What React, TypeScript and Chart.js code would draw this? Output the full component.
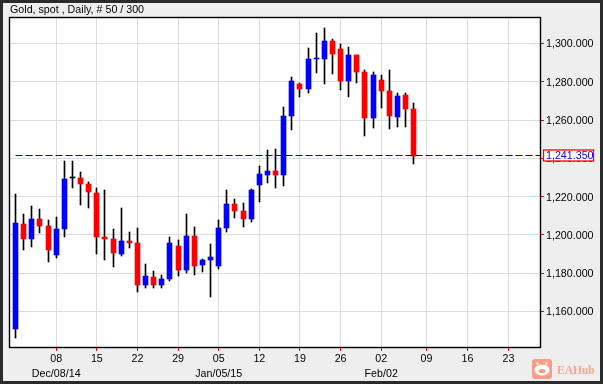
import React, { useEffect, useRef } from "react";
import { Chart, registerables } from "chart.js";

Chart.register(...registerables);

const titleText = "Gold, spot , Daily, # 50 / 300";
const opens = [1150.8,1205.7,1197.8,1208.3,1204.6,1189.5,1203,1229.5,1229.7,1226.6,1221.9,1198.9,1197.8,1190,1196.8,1195.7,1173.8,1178,1173.8,1176.9,1194.2,1181.6,1199.4,1184.2,1186.8,1183.7,1203.6,1216.1,1212.5,1208.3,1226,1231.3,1233.4,1231.1,1262,1278.8,1276.2,1292.1,1291.9,1301.3,1297.1,1280.3,1294,1285.1,1261,1280.9,1275.1,1261.5,1273,1265.7];
const closes = [1206.2,1197.8,1208.3,1204.6,1192.1,1203,1229.2,1229.5,1226.6,1222.4,1198.9,1197.8,1190.5,1196.8,1195.7,1173.8,1178.5,1173.8,1176.9,1195.7,1181.6,1199.4,1183.7,1186.8,1188.4,1203.6,1216.1,1212.5,1208.3,1223.4,1231.8,1233.4,1231.3,1262,1280.3,1276.2,1291.9,1292.3,1301.3,1294.5,1280.3,1294,1285.1,1261,1283.5,1275.1,1262,1272.5,1265.7,1241.35];
const highs = [1221.4,1210.9,1215.1,1213.5,1207.8,1209.3,1238.6,1238.6,1232.9,1227.6,1224.5,1223.4,1203,1214,1201.5,1203.6,1184.8,1181.1,1179,1198.9,1197.3,1210.9,1204.1,1187.4,1195.2,1207.8,1223.4,1218.7,1216.6,1224,1236,1244.4,1244.9,1266.7,1282.4,1279.3,1297.6,1305.5,1308.1,1302.4,1299.7,1298.2,1294,1286.1,1285.1,1283.5,1286.1,1274.1,1274.1,1268.8];
const lows = [1146,1192.1,1193.6,1201,1185.8,1187.9,1198.9,1224.5,1215.6,1214,1190,1186.8,1183.2,1188.9,1193.1,1170.1,1172.2,1172.2,1172.2,1175.9,1178.5,1180,1179,1180.6,1167.5,1182.1,1201.5,1208.8,1204.1,1206.7,1217.2,1227.1,1224.5,1225.3,1254.7,1272,1274.1,1284.5,1278.8,1284,1275.6,1272,1279.3,1251.5,1255.7,1266.2,1255.2,1256.2,1256.2,1236.9];
const tickPositions = [5,10,15,20,25,30,35,40,45,50.57,55.62,60.66];
const tickLabels = ["08","15","22","29","05","12","19","26","02","09","16","23"];
const subLabels: Record<string,string> = { "08":"Dec/08/14", "05":"Jan/05/15", "02":"Feb/02" };
const priceTicks = [1160,1180,1200,1220,1240,1260,1280,1300];
const lastPrice = 1241.35;
const watermark = "EAHub";

const FONT = "'Liberation Sans', Arial, sans-serif";
const fmt = (v: number) => v.toLocaleString("en-US",{minimumFractionDigits:3,maximumFractionDigits:3});
const bodyColor = (i: number) => closes[i] > opens[i] ? "#0000ff" : closes[i] < opens[i] ? "#ff0000" : "#000000";

const snapPlugin = {
  id: "snap",
  afterDatasetsUpdate(chart: any) {
    chart.data.datasets.forEach((_: any, d: number) => {
      chart.getDatasetMeta(d).data.forEach((el: any) => {
        el.x = Math.round(el.x - 0.5) + 0.5;
        const a = Math.round(el.y), b = Math.round(el.base);
        el.y = a; el.base = a === b ? a + 1 : b;
      });
    });
  },
  afterUpdate(chart: any) {
    chart.scales.y.getLabelItems(chart.chartArea).forEach((it: any) => { it.options.translation[1] += 1; });
  },
};

const framePlugin = {
  id: "frame",
  beforeDraw(chart: any) {
    const c = chart.ctx, W = chart.width, H = chart.height;
    c.save();
    c.fillStyle = "#2b2b2b"; c.fillRect(0,0,W,H);
    c.fillStyle = "#eeeeee"; c.fillRect(3,3,W-6,H-6);
    const a = chart.chartArea;
    c.fillStyle = "#ffffff"; c.fillRect(a.left,a.top,a.right-a.left,a.bottom-a.top);
    c.restore();
  },
  afterDraw(chart: any) {
    const c = chart.ctx, a = chart.chartArea;
    const y = Math.floor(chart.scales.y.getPixelForValue(lastPrice)) + 0.5;
    const first = chart.scales.x.getPixelForValue(0);
    c.save();
    c.strokeStyle = "#000000"; c.lineWidth = 1.4;
    c.strokeRect(a.left-0.5,a.top-0.5,a.right-a.left+1,a.bottom-a.top+1);
    c.strokeStyle = "#0000cc"; c.lineWidth = 1; c.setLineDash([7,3]);
    c.beginPath(); c.moveTo(first,y); c.lineTo(a.right,y); c.stroke();
    c.setLineDash([]);
    c.fillStyle = "#ffffff"; c.fillRect(543,y-5.5,50,11);
    c.strokeStyle = "#ff0000"; c.lineWidth = 1.3; c.strokeRect(543.5,y-5.5,50,11);
    c.fillStyle = "#0000ff"; c.font = "10.7px "+FONT; c.textBaseline = "middle"; c.textAlign = "left";
    c.fillText(fmt(lastPrice),546,y+0.5);
    // watermark
    c.fillStyle = "#fb9c84";
    c.beginPath(); c.roundRect(532,359,20,20,3); c.fill();
    c.fillStyle = "#ffffff";
    c.beginPath(); c.ellipse(542,370,7.5,5.5,0,0,Math.PI*2); c.fill();
    c.beginPath(); c.arc(537.5,363.5,1.3,0,Math.PI*2); c.arc(546.5,363.5,1.3,0,Math.PI*2); c.fill();
    c.fillStyle = "#fb9c84";
    c.beginPath(); c.ellipse(542,371,3.5,2,0,0,Math.PI*2); c.fill();
    c.fillStyle = "#f9a793"; c.font = "bold 11.5px 'Liberation Serif', serif"; c.textBaseline = "alphabetic";
    c.fillText(watermark,557,374);
    c.restore();
  },
};

export default function App() {
  const ref = useRef<HTMLCanvasElement>(null);
  useEffect(() => {
    const idx = opens.map((_, i) => i);
    const chart = new Chart(ref.current as HTMLCanvasElement, {
      type: "bar",
      data: {
        datasets: [
          { label:"Body", data: idx.map(i => ({x:i,y:[opens[i],closes[i]]})), backgroundColor: idx.map(bodyColor), barThickness:5, minBarLength:1, grouped:false, borderWidth:0 },
          { label:"Wick", data: idx.map(i => ({x:i,y:[lows[i],highs[i]]})), backgroundColor:"#000000", barThickness:1, grouped:false, borderWidth:0 },
        ] as any,
      },
      plugins: [snapPlugin, framePlugin],
      options: {
        animation:false, responsive:false,
        layout:{ padding:{ left:10, top:4, right:0, bottom:0 } },
        plugins:{
          legend:{display:false}, tooltip:{enabled:false},
          title:{ display:true, text:titleText, align:"start", position:"top", color:"#000", font:{family:FONT,size:10.7,weight:"normal",lineHeight:1.2}, padding:{top:0,bottom:1.16} },
        },
        scales:{
          x:{
            type:"linear", offset:false, min:-0.689, max:64.54,
            afterBuildTicks(s:any){ s.ticks = tickPositions.map(value=>({value})); },
            afterFit(s:any){ s.height = 37; },
            grid:{ color:"#dddddd", tickColor:"#ff0000", tickLength:4, lineWidth:1, offset:false },
            border:{ display:false },
            ticks:{ autoSkip:false, maxRotation:0, padding:1, color:"#000", font:{family:FONT,size:10.7,lineHeight:1.36},
              callback(_v:any,i:number){ const l=tickLabels[i]; return subLabels[l]?[l,subLabels[l]]:l; } },
          },
          y:{
            type:"linear", position:"right", min:1141.45, max:1313.3,
            afterBuildTicks(s:any){ s.ticks = priceTicks.map(value=>({value})); },
            afterFit(s:any){ s.width = 63; },
            grid:{ color:"#dddddd", tickColor:"#ff0000", tickLength:4, lineWidth:1 },
            border:{ display:false },
            ticks:{ autoSkip:false, padding:2, color:"#000", font:{family:FONT,size:10.7}, callback(v:any){ return fmt(v); } },
          },
        },
      } as any,
    });
    return () => chart.destroy();
  }, []);
  return <div style={{position:"fixed",left:0,top:0,width:603,height:384}}>
    <canvas ref={ref} width={603} height={384} style={{display:"block"}} />
  </div>;
}
